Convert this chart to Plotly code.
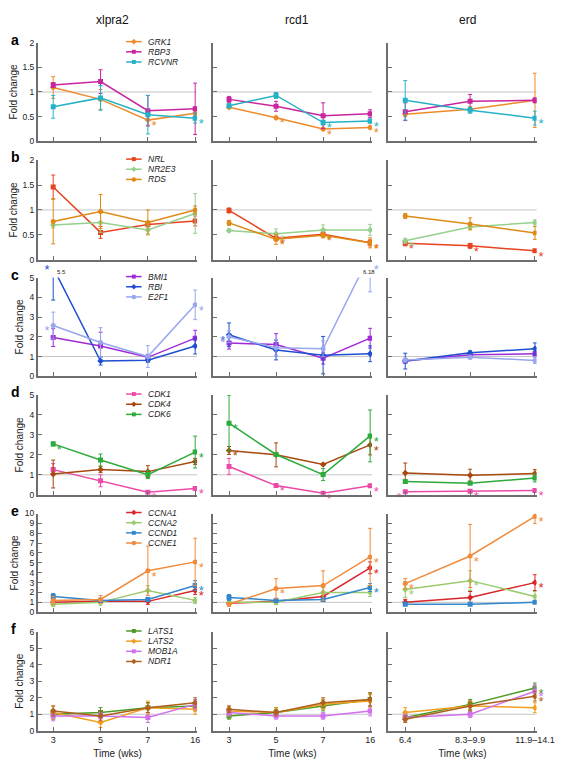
import plotly.graph_objects as go

W, H = 565, 781
MODELS = ["xlpra2", "rcd1", "erd"]
TIME_CANINE = ["3", "5", "7", "16"]
TIME_ERD = ["6.4", "8.3–9.9", "11.9–14.1"]

# ---------------- panel a ----------------
GRK1 = {"xlpra2": [1.09, 0.85, 0.43, 0.57], "rcd1": [0.69, 0.48, 0.25, 0.28], "erd": [0.55, 0.65, 0.83]}
GRK1_ERR = {"xlpra2": [0.22, 0.2, 0.1, 0.05], "rcd1": [0.02, 0.03, 0.03, 0.03], "erd": [0.05, 0.05, 0.55]}
GRK1_SIG = {"xlpra2": [0, 0, 1, 0], "rcd1": [0, 1, 1, 1], "erd": [0, 0, 0]}
RBP3 = {"xlpra2": [1.14, 1.21, 0.62, 0.66], "rcd1": [0.85, 0.71, 0.52, 0.56], "erd": [0.60, 0.81, 0.83]}
RBP3_ERR = {"xlpra2": [0.05, 0.24, 0.31, 0.52], "rcd1": [0.06, 0.1, 0.26, 0.08], "erd": [0.18, 0.14, 0.05]}
RBP3_SIG = {"xlpra2": [0, 0, 0, 0], "rcd1": [0, 0, 0, 0], "erd": [0, 0, 0]}
RCVNR = {"xlpra2": [0.70, 0.88, 0.54, 0.47], "rcd1": [0.72, 0.93, 0.38, 0.41], "erd": [0.83, 0.63, 0.47]}
RCVNR_ERR = {"xlpra2": [0.23, 0.25, 0.39, 0.1], "rcd1": [0.04, 0.06, 0.05, 0.04], "erd": [0.4, 0.06, 0.14]}
RCVNR_SIG = {"xlpra2": [0, 0, 0, 1], "rcd1": [0, 0, 1, 1], "erd": [0, 0, 1]}

# ---------------- panel b ----------------
NRL = {"xlpra2": [1.46, 0.55, 0.71, 0.78], "rcd1": [0.99, 0.43, 0.51, 0.34], "erd": [0.33, 0.28, 0.18]}
NRL_ERR = {"xlpra2": [0.24, 0.12, 0.05, 0.1], "rcd1": [0.05, 0.05, 0.05, 0.06], "erd": [0.05, 0.05, 0.02]}
NRL_SIG = {"xlpra2": [0, 0, 0, 0], "rcd1": [0, 1, 1, 1], "erd": [1, 1, 1]}
NR2E3 = {"xlpra2": [0.70, 0.75, 0.60, 0.93], "rcd1": [0.59, 0.52, 0.60, 0.60], "erd": [0.38, 0.66, 0.75]}
NR2E3_ERR = {"xlpra2": [0.06, 0.2, 0.08, 0.4], "rcd1": [0.03, 0.1, 0.1, 0.11], "erd": [0.05, 0.05, 0.05]}
NR2E3_SIG = {"xlpra2": [0, 0, 0, 0], "rcd1": [0, 1, 0, 0], "erd": [1, 0, 0]}
RDS = {"xlpra2": [0.77, 0.97, 0.75, 1.00], "rcd1": [0.74, 0.41, 0.49, 0.34], "erd": [0.88, 0.72, 0.54]}
RDS_ERR = {"xlpra2": [0.45, 0.34, 0.25, 0.08], "rcd1": [0.05, 0.1, 0.05, 0.1], "erd": [0.05, 0.12, 0.13]}
RDS_SIG = {"xlpra2": [0, 0, 0, 0], "rcd1": [0, 1, 1, 1], "erd": [0, 0, 0]}

# ---------------- panel c ----------------
BMI1 = {"xlpra2": [1.96, 1.53, 0.96, 1.93], "rcd1": [1.68, 1.61, 0.92, 1.93], "erd": [0.77, 1.09, 1.14]}
BMI1_ERR = {"xlpra2": [0.45, 0.7, 0.15, 0.4], "rcd1": [0.3, 0.55, 0.3, 0.5], "erd": [0.1, 0.1, 0.1]}
BMI1_SIG = {"xlpra2": [0, 0, 0, 0], "rcd1": [0, 0, 0, 0], "erd": [0, 0, 0]}
RBI = {"xlpra2": [5.5, 0.77, 0.81, 1.53], "rcd1": [2.1, 1.33, 1.07, 1.14], "erd": [0.77, 1.19, 1.39]}
RBI_ERR = {"xlpra2": [1.64, 0.2, 0.1, 0.4], "rcd1": [0.6, 0.5, 0.95, 0.4], "erd": [0.4, 0.1, 0.3]}
RBI_SIG = {"xlpra2": [-1, 0, 0, 0], "rcd1": [-1, 0, 0, 0], "erd": [0, 0, 0]}
E2F1 = {"xlpra2": [2.57, 1.71, 1.0, 3.62], "rcd1": [2.0, 1.45, 1.39, 6.18], "erd": [0.82, 0.97, 0.80]}
E2F1_ERR = {"xlpra2": [0.68, 0.75, 0.55, 0.75], "rcd1": [0.3, 0.4, 0.4, 1.9], "erd": [0.1, 0.1, 0.15]}
E2F1_SIG = {"xlpra2": [-1, 0, 0, 1], "rcd1": [-1, 0, 0, 1], "erd": [0, 0, 0]}

# ---------------- panel d ----------------
CDK1 = {"xlpra2": [1.26, 0.70, 0.13, 0.31], "rcd1": [1.42, 0.46, 0.08, 0.45], "erd": [0.15, 0.18, 0.21]}
CDK1_ERR = {"xlpra2": [0.3, 0.3, 0.05, 0.1], "rcd1": [0.4, 0.05, 0.03, 0.05], "erd": [0.02, 0.02, 0.02]}
CDK1_SIG = {"xlpra2": [0, 0, 1, 1], "rcd1": [0, 1, 1, 1], "erd": [-1, 1, 1]}
CDK4 = {"xlpra2": [1.04, 1.26, 1.16, 1.67], "rcd1": [2.22, 2.0, 1.52, 2.5], "erd": [1.09, 0.98, 1.06]}
CDK4_ERR = {"xlpra2": [0.7, 0.15, 0.3, 0.15], "rcd1": [0.2, 0.6, 0.05, 0.5], "erd": [0.5, 0.3, 0.2]}
CDK4_SIG = {"xlpra2": [0, 0, 0, 0], "rcd1": [1, 0, 0, 1], "erd": [0, 0, 0]}
CDK6 = {"xlpra2": [2.55, 1.74, 1.01, 2.14], "rcd1": [3.59, 2.02, 1.01, 2.95], "erd": [0.66, 0.58, 0.84]}
CDK6_ERR = {"xlpra2": [0.1, 0.3, 0.2, 0.8], "rcd1": [1.4, 0.1, 0.3, 1.3], "erd": [0.05, 0.05, 0.2]}
CDK6_SIG = {"xlpra2": [1, 0, 0, 1], "rcd1": [1, 0, 0, 1], "erd": [0, 0, 0]}

# ---------------- panel e ----------------
CCNA1 = {"xlpra2": [1.0, 1.1, 1.1, 2.2], "rcd1": [0.9, 1.1, 1.6, 4.5], "erd": [1.0, 1.5, 3.0]}
CCNA1_ERR = {"xlpra2": [0.3, 0.2, 0.3, 0.4], "rcd1": [0.2, 0.3, 0.3, 0.6], "erd": [0.3, 0.6, 0.8]}
CCNA1_SIG = {"xlpra2": [0, 0, 0, 1], "rcd1": [0, 0, 0, 1], "erd": [0, 0, 1]}
CCNA2 = {"xlpra2": [0.8, 1.0, 2.2, 1.2], "rcd1": [1.0, 1.0, 2.0, 2.0], "erd": [2.3, 3.2, 1.6]}
CCNA2_ERR = {"xlpra2": [0.2, 0.3, 0.5, 0.3], "rcd1": [0.2, 0.2, 0.5, 0.4], "erd": [0.8, 1.0, 0.5]}
CCNA2_SIG = {"xlpra2": [0, 0, 0, 0], "rcd1": [0, 0, 0, 0], "erd": [1, 1, 0]}
CCND1 = {"xlpra2": [1.6, 1.2, 1.3, 2.7], "rcd1": [1.5, 1.2, 1.3, 2.5], "erd": [0.8, 0.8, 1.0]}
CCND1_ERR = {"xlpra2": [0.3, 0.2, 0.2, 0.5], "rcd1": [0.3, 0.2, 0.2, 0.4], "erd": [0.1, 0.1, 0.1]}
CCND1_SIG = {"xlpra2": [0, 0, 0, 1], "rcd1": [0, 0, 0, 1], "erd": [0, 0, 0]}
CCNE1 = {"xlpra2": [1.2, 1.3, 4.2, 5.1], "rcd1": [0.8, 2.4, 2.7, 5.6], "erd": [2.9, 5.7, 9.7]}
CCNE1_ERR = {"xlpra2": [0.4, 0.4, 2.5, 2.4], "rcd1": [0.2, 1.0, 1.5, 2.9], "erd": [0.5, 3.2, 0.7]}
CCNE1_SIG = {"xlpra2": [0, 0, 1, 1], "rcd1": [0, 1, 0, 1], "erd": [1, 1, 1]}

# ---------------- panel f ----------------
LATS1 = {"xlpra2": [1.0, 1.1, 1.4, 1.5], "rcd1": [0.9, 1.1, 1.5, 1.9], "erd": [0.8, 1.6, 2.6]}
LATS1_ERR = {"xlpra2": [0.3, 0.3, 0.3, 0.3], "rcd1": [0.2, 0.3, 0.3, 0.4], "erd": [0.2, 0.3, 0.3]}
LATS1_SIG = {"xlpra2": [0, 0, 0, 0], "rcd1": [0, 0, 0, 0], "erd": [0, 0, 1]}
LATS2 = {"xlpra2": [1.1, 0.5, 1.4, 1.3], "rcd1": [1.2, 1.1, 1.6, 1.8], "erd": [1.1, 1.5, 1.4]}
LATS2_ERR = {"xlpra2": [0.4, 0.3, 0.4, 0.3], "rcd1": [0.3, 0.3, 0.3, 0.4], "erd": [0.3, 0.3, 0.3]}
LATS2_SIG = {"xlpra2": [0, 0, 0, 0], "rcd1": [0, 0, 0, 0], "erd": [0, 0, 0]}
MOB1A = {"xlpra2": [0.9, 0.9, 0.8, 1.6], "rcd1": [1.1, 0.9, 0.9, 1.2], "erd": [0.8, 1.0, 2.4]}
MOB1A_ERR = {"xlpra2": [0.3, 0.2, 0.3, 0.3], "rcd1": [0.2, 0.2, 0.2, 0.3], "erd": [0.2, 0.2, 0.4]}
MOB1A_SIG = {"xlpra2": [0, 0, 0, 0], "rcd1": [0, 0, 0, 0], "erd": [0, 0, 1]}
NDR1 = {"xlpra2": [1.2, 0.9, 1.4, 1.7], "rcd1": [1.3, 1.1, 1.7, 1.9], "erd": [0.7, 1.5, 2.1]}
NDR1_ERR = {"xlpra2": [0.3, 0.3, 0.3, 0.3], "rcd1": [0.2, 0.2, 0.3, 0.4], "erd": [0.2, 0.3, 0.3]}
NDR1_SIG = {"xlpra2": [0, 0, 0, 0], "rcd1": [0, 0, 0, 0], "erd": [0, 0, 1]}

PANELS = [
    ("a", [0, 2], [0, 0.5, 1, 1.5, 2], ["0", "0.5", "1", "1.5", "2"],
     [("GRK1", "#EE8A2C", "diamond", GRK1, GRK1_ERR, GRK1_SIG),
      ("RBP3", "#C8259F", "square", RBP3, RBP3_ERR, RBP3_SIG),
      ("RCVNR", "#25B2C6", "square", RCVNR, RCVNR_ERR, RCVNR_SIG)]),
    ("b", [0, 2], [0, 0.5, 1, 1.5, 2], ["0", "0.5", "1", "1.5", "2"],
     [("NRL", "#E8431F", "square", NRL, NRL_ERR, NRL_SIG),
      ("NR2E3", "#95D08E", "diamond", NR2E3, NR2E3_ERR, NR2E3_SIG),
      ("RDS", "#DE8A14", "circle", RDS, RDS_ERR, RDS_SIG)]),
    ("c", [0, 5], [0, 1, 2, 3, 4, 5], ["0", "1", "2", "3", "4", "5"],
     [("BMI1", "#A02AD8", "square", BMI1, BMI1_ERR, BMI1_SIG),
      ("RBI", "#1F4FD0", "diamond", RBI, RBI_ERR, RBI_SIG),
      ("E2F1", "#98A6EE", "circle", E2F1, E2F1_ERR, E2F1_SIG)]),
    ("d", [0, 5], [0, 1, 2, 3, 4, 5], ["0", "1", "2", "3", "4", "5"],
     [("CDK1", "#EC4AA8", "square", CDK1, CDK1_ERR, CDK1_SIG),
      ("CDK4", "#A8480F", "diamond", CDK4, CDK4_ERR, CDK4_SIG),
      ("CDK6", "#2CAA3C", "square", CDK6, CDK6_ERR, CDK6_SIG)]),
    ("e", [0, 10], list(range(11)), [str(i) for i in range(11)],
     [("CCNA1", "#D8262A", "diamond", CCNA1, CCNA1_ERR, CCNA1_SIG),
      ("CCNA2", "#9ACB6C", "diamond", CCNA2, CCNA2_ERR, CCNA2_SIG),
      ("CCND1", "#3387CC", "square", CCND1, CCND1_ERR, CCND1_SIG),
      ("CCNE1", "#F08A3C", "circle", CCNE1, CCNE1_ERR, CCNE1_SIG)]),
    ("f", [0, 6], list(range(7)), [str(i) for i in range(7)],
     [("LATS1", "#4C9A26", "square", LATS1, LATS1_ERR, LATS1_SIG),
      ("LATS2", "#F0A020", "diamond", LATS2, LATS2_ERR, LATS2_SIG),
      ("MOB1A", "#D070EE", "square", MOB1A, MOB1A_ERR, MOB1A_SIG),
      ("NDR1", "#B0601E", "diamond", NDR1, NDR1_ERR, NDR1_SIG)]),
]

# ---------------- geometry (pixels) ----------------
COL_X = [(31, 195.3), (211.5, 376), (392.7, 546)]
X_RANGE = [(-0.321, 3.04), (-0.346, 3.04), (-0.263, 2.025)]
ROW_Y = [(30, 130), (149, 250), (268, 368), (387, 488), (507, 607), (627, 727)]
AXIS_COLOR = "#6E6E6E"
FONT = "Liberation Sans, Arial, Helvetica, sans-serif"


def px(x):
    return x / W


def py(y):
    return 1 - y / H


fig = go.Figure()
layout = {}
shapes = []
annotations = []

for r, (letter, yr, yt, ytl, genes) in enumerate(PANELS):
    for c, model in enumerate(MODELS):
        idx = r * 3 + c + 1
        xa = "x" if idx == 1 else f"x{idx}"
        ya = "y" if idx == 1 else f"y{idx}"
        cats = TIME_ERD if model == "erd" else TIME_CANINE
        last_row = r == len(PANELS) - 1
        layout["xaxis" if idx == 1 else f"xaxis{idx}"] = dict(
            domain=[px(COL_X[c][0]), px(COL_X[c][1])], anchor=ya,
            type="category", categoryorder="array", categoryarray=cats,
            range=list(X_RANGE[c]), showgrid=False, zeroline=False,
            showline=True, linecolor=AXIS_COLOR, linewidth=2,
            ticks="inside", ticklen=4, tickwidth=1.2, tickcolor=AXIS_COLOR,
            tickvals=cats, ticktext=cats, showticklabels=last_row,
            tickfont=dict(size=9, color="#222", family=FONT),
            title=dict(text="Time (wks)" if last_row else "",
                       font=dict(size=10, color="#222", family=FONT), standoff=6),
            fixedrange=True)
        layout["yaxis" if idx == 1 else f"yaxis{idx}"] = dict(
            domain=[py(ROW_Y[r][1]), py(ROW_Y[r][0])], anchor=xa,
            range=yr, showgrid=False, zeroline=False,
            showline=True, linecolor=AXIS_COLOR, linewidth=2,
            ticks="inside", ticklen=4, tickwidth=1.2, tickcolor=AXIS_COLOR,
            tickvals=yt, ticktext=ytl, showticklabels=(c == 0),
            tickfont=dict(size=8.5, color="#222", family=FONT),
            title=dict(text="Fold change" if c == 0 else "",
                       font=dict(size=10, color="#222", family=FONT), standoff=4),
            fixedrange=True)
        # reference line at fold change = 1
        shapes.append(dict(type="line", xref=f"{xa} domain", yref=ya, x0=0, x1=1,
                           y0=1, y1=1, line=dict(color="#C4C4C4", width=1), layer="below"))
        for name, color, sym, vals, errs, sigs in genes:
            v = vals[model]
            fig.add_trace(go.Scatter(
                x=cats, y=v, xaxis=xa, yaxis=ya, mode="lines+markers",
                line=dict(color=color, width=1.5),
                marker=dict(symbol=sym, size=5, color=color),
                error_y=dict(type="data", array=errs[model], color=color,
                             thickness=1, width=2),
                showlegend=False, name=name))
            # significance asterisks
            for k, s in enumerate(sigs[model]):
                if s == 0:
                    continue
                clipped = v[k] > yr[1]
                yv = min(v[k], yr[1])
                vpos = "top" if clipped else "bottom"
                fig.add_trace(go.Scatter(
                    x=[cats[k]], y=[yv], xaxis=xa, yaxis=ya, mode="text",
                    text=[" *" if s > 0 else "* "],
                    textposition=f"{vpos} right" if s > 0 else f"{vpos} left",
                    textfont=dict(size=13, color=color, family=FONT),
                    cliponaxis=False, showlegend=False, hoverinfo="skip"))
            # clipped values labelled at top
            for k, val in enumerate(v):
                if val > yr[1]:
                    annotations.append(dict(
                        x=k, y=yr[1], xref=xa, yref=ya, text=f"{val:g}",
                        showarrow=False, yanchor="bottom", yshift=1,
                        xanchor="left" if k == 0 else "center",
                        xshift=(2 if k == 0 else -1),
                        font=dict(size=6, color="#222", family=FONT)))

    # panel letter
    annotations.append(dict(x=px(1), y=py(ROW_Y[r][0] - 3), xref="paper", yref="paper",
                            text=f"<b>{letter}</b>", showarrow=False, xanchor="left",
                            yanchor="middle", font=dict(size=14, color="#000", family=FONT)))
    # hand-drawn legend inside column 1
    ly0 = ROW_Y[r][0] - 1
    for j, (name, color, sym, *_rest) in enumerate(genes):
        yy = ly0 + j * 10.3
        shapes.append(dict(type="line", xref="paper", yref="paper",
                           x0=px(122), x1=px(138), y0=py(yy), y1=py(yy),
                           line=dict(color=color, width=1.5)))
        if sym == "square":
            shapes.append(dict(type="rect", xref="paper", yref="paper",
                               x0=px(128), x1=px(132), y0=py(yy - 2), y1=py(yy + 2),
                               fillcolor=color, line=dict(width=0)))
        elif sym == "circle":
            shapes.append(dict(type="circle", xref="paper", yref="paper",
                               x0=px(127.7), x1=px(132.3), y0=py(yy - 2.3), y1=py(yy + 2.3),
                               fillcolor=color, line=dict(width=0)))
        else:
            shapes.append(dict(type="path", xref="paper", yref="paper",
                               path=f"M {px(130)} {py(yy-2.8)} L {px(132.8)} {py(yy)} "
                                    f"L {px(130)} {py(yy+2.8)} L {px(127.2)} {py(yy)} Z",
                               fillcolor=color, line=dict(width=0)))
        annotations.append(dict(x=px(143), y=py(yy), xref="paper", yref="paper",
                                text=f"<i>{name}</i>", showarrow=False, xanchor="left",
                                yanchor="middle", font=dict(size=8.5, color="#222", family=FONT)))

# column titles
for cx, title in zip([108, 299, 475], MODELS):
    annotations.append(dict(x=px(cx), y=py(7), xref="paper", yref="paper", text=title,
                            showarrow=False, xanchor="center", yanchor="middle",
                            font=dict(size=12, color="#111", family=FONT)))

fig.update_layout(
    width=W, height=H, autosize=False,
    margin=dict(l=0, r=0, t=0, b=0),
    paper_bgcolor="white", plot_bgcolor="white",
    shapes=shapes, annotations=annotations,
    font=dict(family=FONT, color="#222"),
    **layout)

fig.write_html("out.html")
